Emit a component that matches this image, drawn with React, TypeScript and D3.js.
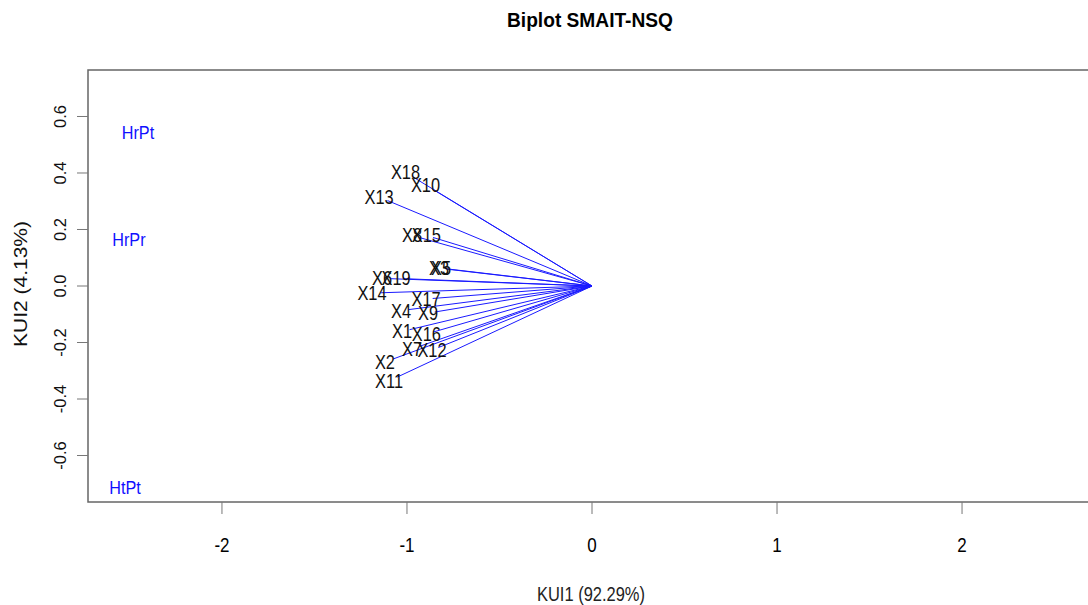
import React from 'react';
import * as d3 from 'd3';

const W = 1088, H = 605;
const M = { left: 88, top: 70, right: 1096, bottom: 502 };

// variable labels and their biplot coordinates (KUI1, KUI2)
const varNames = ['X18', 'X10', 'X13', 'X8', 'X15', 'X3', 'X5', 'X6', 'X19', 'X14',
  'X17', 'X4', 'X9', 'X1', 'X16', 'X7', 'X12', 'X2', 'X11'];
const varKUI1 = [-1.008, -0.9, -1.151, -0.973, -0.895, -0.827, -0.816, -1.135, -1.059, -1.189,
  -0.897, -1.032, -0.886, -1.027, -0.895, -0.973, -0.865, -1.119, -1.097];
const varKUI2 = [0.402, 0.358, 0.315, 0.179, 0.179, 0.064, 0.062, 0.027, 0.027, -0.025,
  -0.046, -0.087, -0.096, -0.161, -0.17, -0.223, -0.227, -0.269, -0.336];

// observations
const obsNames = ['HrPt', 'HrPr', 'HtPt'];
const obsKUI1 = [-2.454, -2.503, -2.524];
const obsKUI2 = [0.542, 0.166, -0.715];

const xTicks = [-2, -1, 0, 1, 2];
const yTicks = [-0.6, -0.4, -0.2, 0.0, 0.2, 0.4, 0.6];

const FONT = '"Liberation Sans", Arial, sans-serif';
const ARROW_SHRINK = 0.96;

// narrow-looking text: tall glyphs squeezed horizontally
function SText({ x, y, size, sx = 0.82, anchor = 'middle', fill = '#000', weight = 'normal', children }: any) {
  return (
    <text
      transform={`translate(${x},${y}) scale(${sx},1)`}
      textAnchor={anchor}
      fontSize={size}
      fontWeight={weight}
      fill={fill}
      fontFamily={FONT}
    >
      {children}
    </text>
  );
}

export default function App() {
  const x = d3.scaleLinear().domain([-2.724, 2.724]).range([M.left, M.right]);
  const y = d3.scaleLinear().domain([-0.7646, 0.7646]).range([M.bottom, M.top]);

  const vars = varNames.map((n, i) => ({ name: n, a: varKUI1[i], b: varKUI2[i] }));
  const obs = obsNames.map((n, i) => ({ name: n, a: obsKUI1[i], b: obsKUI2[i] }));

  return (
    <svg width={W} height={H} style={{ position: 'absolute', left: 0, top: 0, background: '#fff' }}>
      {/* title */}
      <text x={590} y={27} textAnchor="middle" fontSize={21} fontWeight="bold" fontFamily={FONT}
        textLength={166} lengthAdjust="spacingAndGlyphs">Biplot SMAIT-NSQ</text>

      {/* plot box */}
      <rect x={M.left} y={M.top} width={M.right - M.left} height={M.bottom - M.top}
        fill="none" stroke="#666" strokeWidth={1.5} />

      {/* x axis */}
      {xTicks.map((t) => (
        <g key={'x' + t}>
          <line x1={x(t)} x2={x(t)} y1={M.bottom} y2={M.bottom + 12} stroke="#777" />
          <SText x={x(t)} y={552} size={20} sx={0.85}>{String(t)}</SText>
        </g>
      ))}
      <text x={591} y={601} textAnchor="middle" fontSize={21} fontFamily={FONT} fill="#222"
        textLength={108} lengthAdjust="spacingAndGlyphs">KUI1 (92.29%)</text>

      {/* y axis */}
      {yTicks.map((t) => (
        <g key={'y' + t}>
          <line x1={M.left - 11} x2={M.left} y1={y(t)} y2={y(t)} stroke="#777" />
          <text transform={`translate(66,${y(t)}) rotate(-90)`} textAnchor="middle"
            fontSize={16.5} fontFamily={FONT} fill="#111">{t.toFixed(1)}</text>
        </g>
      ))}
      <text transform={`translate(27,284) rotate(-90)`} textAnchor="middle" fontSize={18}
        fontFamily={FONT} fill="#111" textLength={126} lengthAdjust="spacingAndGlyphs">KUI2 (4.13%)</text>

      {/* observations */}
      {obs.map((d) => (
        <SText key={d.name} x={x(d.a)} y={y(d.b) + 6.5} size={18} sx={0.9} fill="#1010ff">{d.name}</SText>
      ))}

      {/* variable arrows */}
      {vars.map((d) => (
        <line key={'l' + d.name} x1={x(0)} y1={y(0)} x2={x(d.a * ARROW_SHRINK)} y2={y(d.b * ARROW_SHRINK)}
          stroke="#1a1aff" strokeWidth={1} />
      ))}
      {vars.map((d) => (
        <SText key={'t' + d.name} x={x(d.a)} y={y(d.b) + 7} size={20} sx={0.82} fill="#111">{d.name}</SText>
      ))}
    </svg>
  );
}
